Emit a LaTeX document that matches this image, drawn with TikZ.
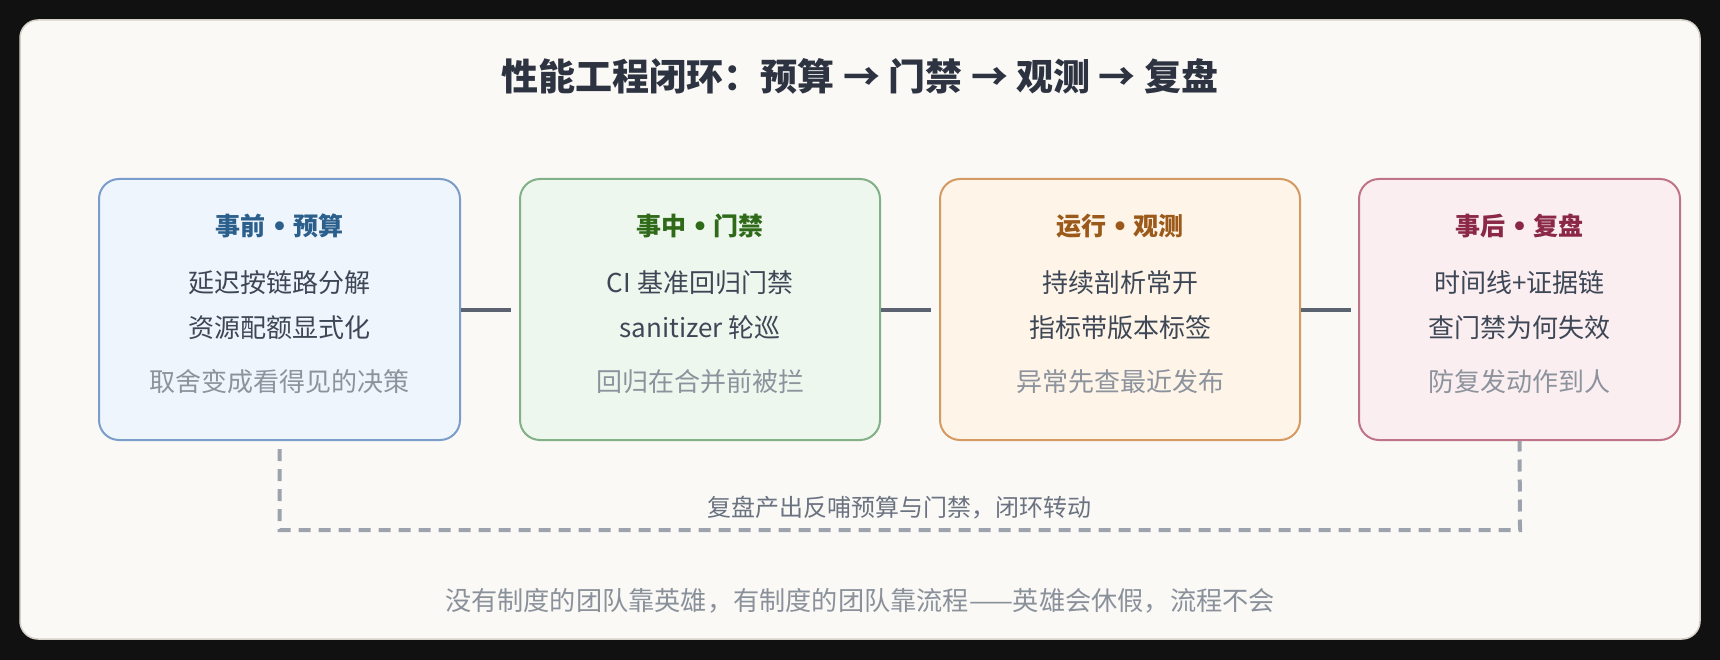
\documentclass[tikz,border=0pt]{standalone}
\usepackage{fontspec}
\setmainfont{Noto Sans CJK SC}
\newfontfamily\djv{DejaVu Sans}
\usetikzlibrary{calc}
\definecolor{bgdark}{HTML}{111111}
\definecolor{panelfill}{HTML}{FAF9F6}
\definecolor{paneldraw}{HTML}{D6D2C8}
\definecolor{titlec}{HTML}{2D3340}
\definecolor{bodyc}{HTML}{3E4756}
\definecolor{grayc}{HTML}{8C939D}
\definecolor{connc}{HTML}{5C6370}
\definecolor{dashc}{HTML}{9CA3AD}
\definecolor{labelc}{HTML}{6B7280}
\definecolor{footc}{HTML}{8A919B}
\definecolor{aF}{HTML}{EEF5FD}\definecolor{aD}{HTML}{7B9DC9}\definecolor{aT}{HTML}{2B5F8C}
\definecolor{bF}{HTML}{EEF7EE}\definecolor{bD}{HTML}{82B087}\definecolor{bT}{HTML}{2F6A19}
\definecolor{cF}{HTML}{FEF4E8}\definecolor{cD}{HTML}{D49A62}\definecolor{cT}{HTML}{9C5A1A}
\definecolor{dF}{HTML}{FBEEF1}\definecolor{dD}{HTML}{C07488}\definecolor{dT}{HTML}{8A2846}
\newcommand{\sepdot}{ {\djv\bfseries •} }
\tikzset{
  stagebox/.style={draw, line width=2pt, rounded corners=20pt, inner sep=0pt, minimum height=261pt},
  boxtitle/.style={anchor=base, inner sep=0pt, font=\fontsize{25}{25}\selectfont\bfseries},
  boxline/.style={anchor=base, inner sep=0pt, text=bodyc, font=\fontsize{26}{26}\selectfont},
  boxnote/.style={anchor=base, inner sep=0pt, text=grayc, font=\fontsize{26}{26}\selectfont},
  conn/.style={draw=connc, line width=4pt},
  loopline/.style={draw=dashc, line width=4pt, dash pattern=on 12pt off 8pt},
}
\begin{document}
\begin{tikzpicture}[x=1pt,y=-1pt]
\useasboundingbox (0,0) rectangle (1720,660);
\fill[bgdark] (0,0) rectangle (1720,660);
\draw[fill=panelfill, draw=paneldraw, line width=1.5pt, rounded corners=18pt] (20,20) rectangle (1700,639);

\node[anchor=base, inner sep=0pt, text=titlec, font=\fontsize{37}{37}\selectfont\bfseries] (title) at (860,91) {性能工程闭环：预算 → 门禁 → 观测 → 复盘};

% boxes
\node[stagebox, fill=aF, draw=aD, minimum width=361pt] (b1) at (279.5,309.5) {};
\node[stagebox, fill=bF, draw=bD, minimum width=360pt] (b2) at (700,309.5) {};
\node[stagebox, fill=cF, draw=cD, minimum width=360pt] (b3) at (1120,309.5) {};
\node[stagebox, fill=dF, draw=dD, minimum width=321pt] (b4) at (1519.5,309.5) {};

% box 1
\node[boxtitle, text=aT] (t1) at (279.5,236) {事前\sepdot 预算};
\node[boxline] (l1a) at (279.5,292) {延迟按链路分解};
\node[boxline] (l1b) at (279.5,337) {资源配额显式化};
\node[boxnote] (n1) at (279.5,391) {取舍变成看得见的决策};
% box 2
\node[boxtitle, text=bT] (t2) at (700,236) {事中\sepdot 门禁};
\node[boxline] (l2a) at (700,292) {CI 基准回归门禁};
\node[boxline] (l2b) at (700,337) {sanitizer 轮巡};
\node[boxnote] (n2) at (700,391) {回归在合并前被拦};
% box 3
\node[boxtitle, text=cT] (t3) at (1120,236) {运行\sepdot 观测};
\node[boxline] (l3a) at (1120,292) {持续剖析常开};
\node[boxline] (l3b) at (1120,337) {指标带版本标签};
\node[boxnote] (n3) at (1120,391) {异常先查最近发布};
% box 4
\node[boxtitle, text=dT] (t4) at (1519.5,236) {事后\sepdot 复盘};
\node[boxline] (l4a) at (1519.5,292) {时间线+证据链};
\node[boxline] (l4b) at (1519.5,337) {查门禁为何失效};
\node[boxnote] (n4) at (1519.5,391) {防复发动作到人};

% connectors
\coordinate (c1) at ($(b1.east)+(50,0)$);
\coordinate (c2) at ($(b2.east)+(50,0)$);
\coordinate (c3) at ($(b3.east)+(50,0)$);
\draw[conn] (b1.east) -- (c1);
\draw[conn] (b2.east) -- (c2);
\draw[conn] (b3.east) -- (c3);

% feedback loop
\coordinate (lp) at ($(b1.south)+(0,8)$);
\coordinate (lb) at (1520,530);
\draw[loopline] (lp) |- (lb) -- (b4.south);
\node[anchor=base, inner sep=0pt, text=labelc, font=\fontsize{24}{24}\selectfont] (looplabel) at (899,516) {复盘产出反哺预算与门禁，闭环转动};

\node[anchor=base, inner sep=0pt, text=footc, font=\fontsize{26.2}{26.2}\selectfont] (foot) at (860,610) {没有制度的团队靠英雄，有制度的团队靠流程——英雄会休假，流程不会};
\end{tikzpicture}
\end{document}
